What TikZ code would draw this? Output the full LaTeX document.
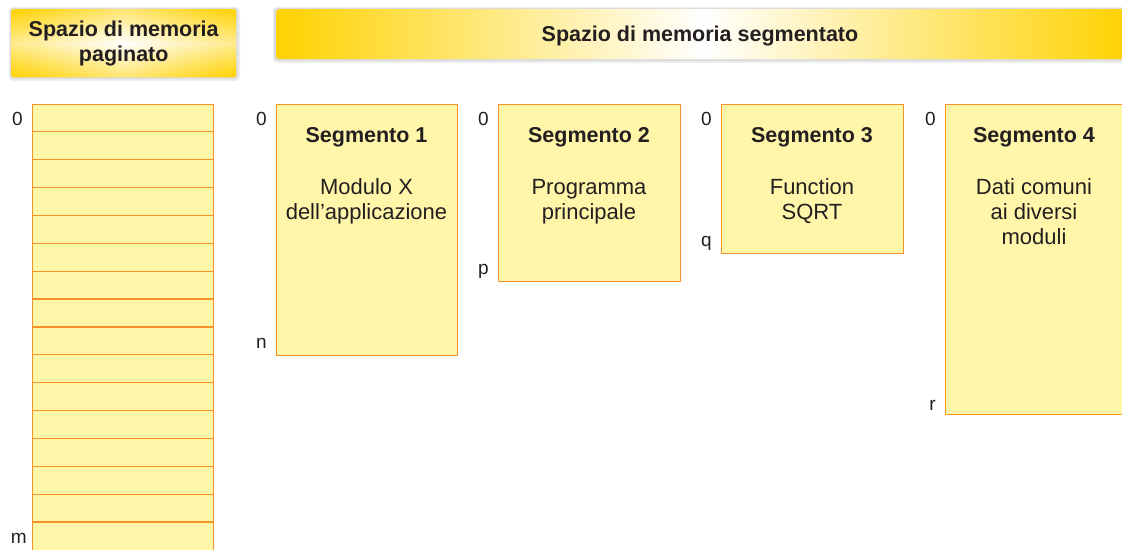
\documentclass[tikz,border=0pt]{standalone}
\usepackage{fontspec}
\setmainfont{Liberation Sans}
\usetikzlibrary{calc}
\definecolor{hy}{RGB}{255,210,0}
\definecolor{boxfill}{RGB}{255,246,170}
\definecolor{boxline}{RGB}{246,146,40}
\definecolor{txt}{RGB}{35,31,32}
\tikzset{
  lbl/.style={text=txt, font=\fontsize{19}{22}\selectfont, anchor=base east, inner sep=0pt},
  ttl/.style={text=txt, font=\fontsize{21.5}{25}\selectfont\bfseries, anchor=base, inner sep=0pt},
  body/.style={text=txt, font=\fontsize{22}{25}\selectfont, align=center, anchor=base, inner sep=0pt},
  mem/.style={draw=boxline, fill=boxfill, line width=1.2pt, anchor=north west, inner sep=0pt},
  shad/.style={fill=black, opacity=0.07, draw=none},
}
\begin{document}
\begin{tikzpicture}[x=1pt,y=-1pt]
\useasboundingbox (0,0) rectangle (1122,549);
% header shadows
\fill[shad, rounded corners=4pt] (9,7) rectangle (240,81);
\fill[shad, rounded corners=3pt] (10,8) rectangle (238,79);
\fill[shad, rounded corners=4pt] (273,7) rectangle (1135,63);
\fill[shad, rounded corners=3pt] (274,8) rectangle (1135,61);
% header 1 (white centre, yellow towards the edges)
\node[anchor=north west, minimum width=225, minimum height=68, rounded corners=3pt, shading=axis, left color=hy, right color=hy, middle color=white, inner sep=0pt] (h1) at (11,9) {};
\shade[rounded corners=3pt, top color=hy, bottom color=hy, middle color=white, opacity=0.55] (h1.north west) rectangle (h1.south east);
\node[ttl, anchor=center, align=center] (h1t) at (h1.center) {Spazio di memoria\\paginato};
% header 2 (white in the middle, yellow at both ends)
\node[anchor=north west, minimum width=855, minimum height=50, rounded corners=3pt, shading=axis, left color=hy, right color=hy, middle color=white, inner sep=0pt] (h2) at (276,9) {};
\node[ttl] (h2t) at (700,41) {Spazio di memoria segmentato};
% paged memory
\node[mem, minimum width=181, minimum height=460] (pg) at (32,104) {};
\foreach \k in {1,...,15}
  \draw[boxline, line width=1.2pt] ($(pg.north west)+(0,27.87*\k)$) -- ($(pg.north east)+(0,27.87*\k)$);
\node[lbl] (pg0) at ($(pg.north west)+(-9,21)$) {0};
\node[lbl] (pgm) at (27,543) {m};
% segments
\node[mem, minimum width=181, minimum height=251] (s1) at (276,104) {};
\node[mem, minimum width=182, minimum height=177] (s2) at (498,104) {};
\node[mem, minimum width=182, minimum height=149] (s3) at (721,104) {};
\node[mem, minimum width=190, minimum height=310] (s4) at (945,104) {};
% start/end labels
\node[lbl] (s1a) at ($(s1.north west)+(-9,21)$) {0};
\node[lbl] (s1b) at ($(s1.south west)+(-9,-8)$) {n};
\node[lbl] (s2a) at ($(s2.north west)+(-9,21)$) {0};
\node[lbl] (s2b) at ($(s2.south west)+(-9,-8)$) {p};
\node[lbl] (s3a) at ($(s3.north west)+(-9,21)$) {0};
\node[lbl] (s3b) at ($(s3.south west)+(-9,-8)$) {q};
\node[lbl] (s4a) at ($(s4.north west)+(-9,21)$) {0};
\node[lbl] (s4b) at ($(s4.south west)+(-9,-5)$) {r};
% titles and contents
\node[ttl] (t1) at (366.5,142) {Segmento 1};
\node[ttl] (t2) at (589,142) {Segmento 2};
\node[ttl] (t3) at (812,142) {Segmento 3};
\node[ttl] (t4) at (1034,142) {Segmento 4};
\node[body] (b1) at (366.5,219) {Modulo X\\dell’applicazione};
\node[body] (b2) at (589,219) {Programma\\principale};
\node[body] (b3) at (812,219) {Function\\SQRT};
\node[body] (b4) at (1034,244) {Dati comuni\\ai diversi\\moduli};
\end{tikzpicture}
\end{document}
